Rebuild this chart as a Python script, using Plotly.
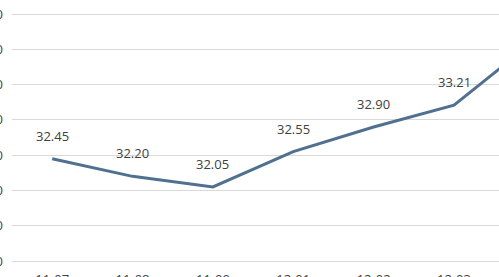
import plotly.graph_objects as go

categories = ["11-07", "11-08", "11-09", "12-01", "12-02", "12-03", "12-04"]
values = [32.45, 32.20, 32.05, 32.55, 32.90, 33.21, 34.12]
labels = ["32.45", "32.20", "32.05", "32.55", "32.90", "33.21", "34.12"]
ytickvals = [31.0, 31.5, 32.0, 32.5, 33.0, 33.5, 34.0, 34.5]

LINE = "#50708f"
TEXT = "#404040"
GRID = "#d9d9d9"
FONT = "Open Sans, Liberation Sans, sans-serif"

fig = go.Figure()
fig.add_trace(go.Scatter(
    x=list(range(len(categories))), y=values, mode="lines",
    line=dict(color=LINE, width=3), hoverinfo="skip", showlegend=False,
))
for i, (v, t) in enumerate(zip(values, labels)):
    fig.add_annotation(x=i, y=v, text=t, showarrow=False, yshift=23,
                       xref="x", yref="y",
                       font=dict(family=FONT, size=13, color=TEXT))

fig.update_layout(
    width=499, height=277,
    margin=dict(l=12, r=0, t=0, b=16, autoexpand=False),
    paper_bgcolor="white", plot_bgcolor="white",
    xaxis=dict(range=[-0.5, 5.56], tickvals=list(range(len(categories))), ticktext=categories,
               showgrid=False, zeroline=False, showline=True, linecolor=GRID, linewidth=1,
               ticks="", ticklabelstandoff=6, automargin=False,
               tickfont=dict(family=FONT, size=13, color=TEXT)),
    yaxis=dict(range=[31.0, 34.7], tickvals=ytickvals, tickformat=".2f",
               showgrid=True, gridcolor=GRID, gridwidth=1, zeroline=False, showline=False,
               ticks="", ticklabelstandoff=8, automargin=False,
               tickfont=dict(family=FONT, size=13, color=TEXT)),
)
fig.write_html("out.html")
